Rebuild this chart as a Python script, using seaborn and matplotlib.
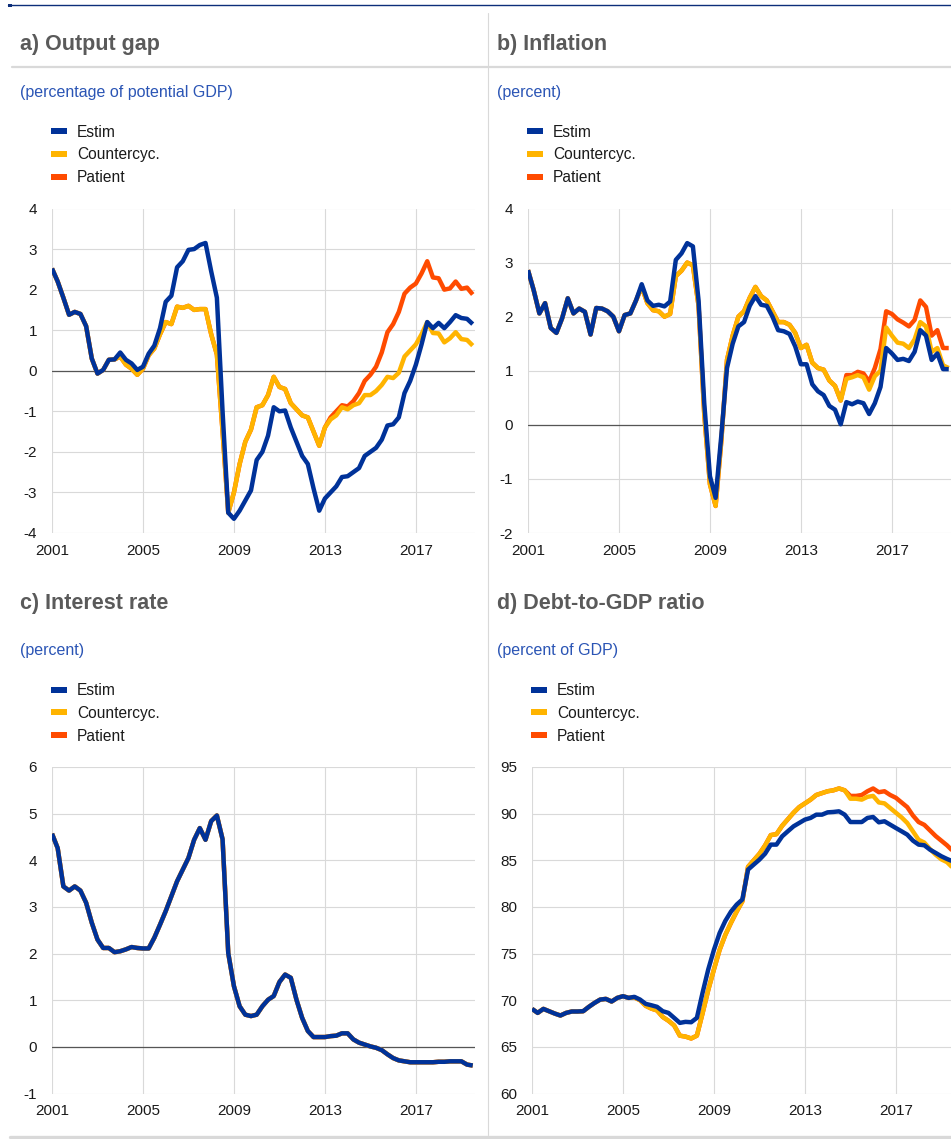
import numpy as np
import seaborn as sns
import matplotlib.pyplot as plt
from matplotlib.lines import Line2D
from matplotlib.patches import Rectangle

# ---- data: quarterly, 2001Q1 - 2019Q3 ----
quarters = 2001 + np.arange(75) / 4

output_estim = [2.52, 2.2, 1.8, 1.38, 1.45, 1.4, 1.1, 0.3, -0.07, 0.02,
                0.27, 0.28, 0.45, 0.27, 0.18, 0.02, 0.1, 0.42, 0.62, 1.05,
                1.7, 1.85, 2.55, 2.7, 2.98, 3.0, 3.1, 3.15, 2.45, 1.8,
                -1.0, -3.5, -3.65, -3.45, -3.2, -2.95, -2.2, -2.0, -1.6, -0.9,
                -1.0, -0.98, -1.4, -1.75, -2.1, -2.3, -2.9, -3.45, -3.15, -3.0,
                -2.85, -2.62, -2.6, -2.5, -2.4, -2.1, -2.0, -1.9, -1.7, -1.35,
                -1.32, -1.15, -0.55, -0.25, 0.15, 0.65, 1.2, 1.05, 1.18, 1.05,
                1.2, 1.37, 1.3, 1.28, 1.15]
output_countercyc = [2.52, 2.2, 1.8, 1.38, 1.45, 1.4, 1.1, 0.3, -0.07, 0.02,
                     0.27, 0.28, 0.35, 0.15, 0.05, -0.1, 0.05, 0.38, 0.55, 0.9,
                     1.2, 1.15, 1.58, 1.55, 1.6, 1.5, 1.52, 1.52, 0.9, 0.4,
                     -1.5, -3.5, -3.0, -2.3, -1.75, -1.45, -0.9, -0.85, -0.6, -0.15,
                     -0.4, -0.45, -0.8, -0.95, -1.1, -1.15, -1.5, -1.85, -1.4, -1.2,
                     -1.1, -0.9, -0.95, -0.85, -0.8, -0.6, -0.6, -0.5, -0.35, -0.15,
                     -0.18, -0.05, 0.35, 0.5, 0.65, 0.9, 1.2, 0.93, 0.92, 0.7,
                     0.8, 0.95, 0.78, 0.76, 0.62]
output_patient = [2.52, 2.2, 1.8, 1.38, 1.45, 1.4, 1.1, 0.3, -0.07, 0.02,
                  0.27, 0.28, 0.35, 0.15, 0.05, -0.1, 0.05, 0.38, 0.55, 0.9,
                  1.2, 1.15, 1.58, 1.55, 1.6, 1.5, 1.52, 1.52, 0.9, 0.4,
                  -1.5, -3.5, -3.0, -2.3, -1.75, -1.45, -0.9, -0.85, -0.6, -0.15,
                  -0.4, -0.45, -0.8, -0.95, -1.1, -1.15, -1.5, -1.85, -1.4, -1.15,
                  -1.0, -0.85, -0.88, -0.75, -0.55, -0.25, -0.1, 0.1, 0.45, 0.95,
                  1.15, 1.45, 1.9, 2.05, 2.15, 2.4, 2.7, 2.3, 2.28, 2.0,
                  2.03, 2.2, 2.02, 2.05, 1.88]

infl_estim = [2.86, 2.49, 2.06, 2.25, 1.79, 1.70, 1.97, 2.34, 2.06, 2.15,
              2.09, 1.67, 2.16, 2.15, 2.1, 2.0, 1.73, 2.03, 2.06, 2.3,
              2.6, 2.3, 2.2, 2.22, 2.19, 2.28, 3.05, 3.17, 3.36, 3.3,
              2.3, 0.4, -0.95, -1.35, -0.2, 1.05, 1.5, 1.82, 1.9, 2.2,
              2.38, 2.22, 2.2, 2.0, 1.75, 1.73, 1.68, 1.45, 1.12, 1.12,
              0.75, 0.62, 0.55, 0.35, 0.28, 0.01, 0.42, 0.38, 0.43, 0.4,
              0.2, 0.4, 0.7, 1.42, 1.32, 1.2, 1.22, 1.18, 1.35, 1.75,
              1.65, 1.2, 1.32, 1.03, 1.03]
infl_countercyc = [2.86, 2.49, 2.06, 2.25, 1.79, 1.70, 1.97, 2.34, 2.06, 2.15,
                   2.09, 1.67, 2.16, 2.15, 2.1, 2.0, 1.73, 2.03, 2.06, 2.3,
                   2.55, 2.25, 2.12, 2.1, 2.0, 2.05, 2.75, 2.85, 3.0, 2.95,
                   2.2, 0.2, -1.1, -1.5, -0.3, 1.2, 1.65, 2.0, 2.1, 2.35,
                   2.55, 2.38, 2.3, 2.1, 1.9, 1.9, 1.85, 1.7, 1.42, 1.48,
                   1.15, 1.05, 1.02, 0.82, 0.72, 0.45, 0.85, 0.88, 0.92, 0.88,
                   0.65, 0.9, 1.0, 1.8, 1.65, 1.52, 1.5, 1.42, 1.58, 1.9,
                   1.82, 1.35, 1.42, 1.1, 1.05]
infl_patient = [2.86, 2.49, 2.06, 2.25, 1.79, 1.70, 1.97, 2.34, 2.06, 2.15,
                2.09, 1.67, 2.16, 2.15, 2.1, 2.0, 1.73, 2.03, 2.06, 2.3,
                2.55, 2.25, 2.12, 2.1, 2.0, 2.05, 2.75, 2.85, 3.0, 2.95,
                2.2, 0.2, -1.1, -1.5, -0.3, 1.2, 1.65, 2.0, 2.1, 2.35,
                2.55, 2.38, 2.3, 2.1, 1.9, 1.9, 1.85, 1.7, 1.42, 1.48,
                1.15, 1.05, 1.02, 0.82, 0.72, 0.45, 0.92, 0.92, 0.98, 0.95,
                0.8, 1.05, 1.4, 2.1, 2.05, 1.95, 1.89, 1.82, 1.94, 2.3,
                2.18, 1.65, 1.75, 1.42, 1.42]

rate_estim = [4.57, 4.26, 3.44, 3.35, 3.44, 3.35, 3.09, 2.66, 2.3, 2.12,
              2.12, 2.03, 2.05, 2.09, 2.14, 2.12, 2.11, 2.11, 2.34, 2.62,
              2.91, 3.23, 3.55, 3.8, 4.05, 4.44, 4.69, 4.44, 4.84, 4.96,
              4.45, 2.01, 1.3, 0.87, 0.69, 0.66, 0.69, 0.87, 1.01, 1.09,
              1.39, 1.55, 1.48, 1.01, 0.62, 0.34, 0.21, 0.21, 0.21, 0.23,
              0.24, 0.29, 0.29, 0.16, 0.09, 0.05, 0.01, -0.02, -0.07, -0.16,
              -0.24, -0.29, -0.31, -0.33, -0.33, -0.33, -0.33, -0.33, -0.32, -0.32,
              -0.31, -0.31, -0.31, -0.38, -0.4]
# the three rate paths coincide in the picture
rate_countercyc = rate_estim
rate_patient = rate_estim

debt_estim = [69.07, 68.64, 69.07, 68.82, 68.57, 68.36, 68.64, 68.79, 68.79, 68.82,
              69.29, 69.71, 70.07, 70.14, 69.86, 70.25, 70.43, 70.25, 70.36, 70.07,
              69.61, 69.46, 69.29, 68.82, 68.64, 68.11, 67.57, 67.68, 67.64, 68.11,
              70.8, 73.3, 75.4, 77.2, 78.5, 79.5, 80.25, 80.8, 84.0, 84.54,
              85.07, 85.71, 86.68, 86.68, 87.57, 88.11, 88.64, 89.0, 89.36, 89.54,
              89.89, 89.89, 90.14, 90.18, 90.25, 89.89, 89.1, 89.1, 89.1, 89.54,
              89.64, 89.07, 89.18, 88.82, 88.46, 88.11, 87.75, 87.11, 86.68, 86.61,
              86.14, 85.79, 85.43, 85.14, 84.89]
debt_countercyc = [69.07, 68.64, 69.07, 68.82, 68.57, 68.36, 68.64, 68.79, 68.79, 68.82,
                   69.29, 69.71, 70.07, 70.14, 69.86, 70.25, 70.43, 70.25, 70.3, 70.0,
                   69.4, 69.1, 68.9, 68.2, 67.8, 67.3, 66.2, 66.1, 65.9, 66.2,
                   68.6, 71.1, 73.3, 75.4, 77.0, 78.3, 79.5, 80.6, 84.3, 85.0,
                   85.7, 86.6, 87.7, 87.8, 88.7, 89.4, 90.1, 90.7, 91.1, 91.5,
                   92.0, 92.2, 92.4, 92.5, 92.7, 92.5, 91.6, 91.6, 91.5, 91.8,
                   91.9, 91.2, 91.1, 90.6, 90.1, 89.6, 89.0, 88.1, 87.2, 86.9,
                   86.2, 85.6, 85.1, 84.8, 84.2]
debt_patient = [69.07, 68.64, 69.07, 68.82, 68.57, 68.36, 68.64, 68.79, 68.79, 68.82,
                69.29, 69.71, 70.07, 70.14, 69.86, 70.25, 70.43, 70.25, 70.3, 70.0,
                69.4, 69.1, 68.9, 68.2, 67.8, 67.3, 66.2, 66.1, 65.9, 66.2,
                68.6, 71.1, 73.3, 75.4, 77.0, 78.3, 79.5, 80.6, 84.3, 85.0,
                85.7, 86.6, 87.7, 87.8, 88.7, 89.4, 90.1, 90.7, 91.1, 91.5,
                92.0, 92.2, 92.4, 92.5, 92.7, 92.5, 91.9, 91.9, 92.0, 92.4,
                92.7, 92.3, 92.4, 92.0, 91.7, 91.2, 90.7, 89.8, 89.1, 88.8,
                88.2, 87.6, 87.1, 86.6, 86.0]

series_names = ['Estim', 'Countercyc.', 'Patient']
x_ticks = [2001, 2005, 2009, 2013, 2017]

BLUE, YELLOW, ORANGE = '#003299', '#FFB400', '#FF4B00'
colors = [BLUE, YELLOW, ORANGE]
GRID = '#d9d9d9'

sns.set_theme(style='white')
plt.rcParams['font.family'] = ['Liberation Sans', 'DejaVu Sans']
plt.rcParams['axes.unicode_minus'] = False

W, H = 951, 1139
fig = plt.figure(figsize=(W / 100, H / 100), dpi=100)


def fx(px):
    return px / W


def fy(py):
    return 1 - py / H


def fig_line(x0, y0, x1, y1, color, lw):
    fig.add_artist(Line2D([fx(x0), fx(x1)], [fy(y0), fy(y1)],
                          transform=fig.transFigure, color=color, lw=lw))


# page furniture
fig_line(8, 5, 951, 5, '#0c2e7a', 1.0)
fig.add_artist(Rectangle((fx(8), fy(7)), 4 / W, 3 / H, transform=fig.transFigure,
                         color='#0c2e7a', lw=0))
fig_line(12, 67, 951, 67, GRID, 1.6)
fig_line(488, 13, 488, 1135, GRID, 0.8)
fig_line(10, 1137, 951, 1137, GRID, 2.4)

panels = [
    ('a) Output gap', '(percentage of potential GDP)', 20, 52, 208.5, 533,
     [output_estim, output_countercyc, output_patient], (-4, 4), list(range(-4, 5)), True),
    ('b) Inflation', '(percent)', 497, 528, 208.5, 533,
     [infl_estim, infl_countercyc, infl_patient], (-2, 4), list(range(-2, 5)), True),
    ('c) Interest rate', '(percent)', 20, 52, 767, 1093.5,
     [rate_estim, rate_countercyc, rate_patient], (-1, 6), list(range(-1, 7)), True),
    ('d) Debt-to-GDP ratio', '(percent of GDP)', 497, 532, 767, 1093.5,
     [debt_estim, debt_countercyc, debt_patient], (60, 95), list(range(60, 96, 5)), False),
]

for title, subtitle, tx, left, top, bottom, data, ylim, yticks, zero in panels:
    shift = top - 208.5
    fig.text(fx(tx), fy(50 + shift), title, fontsize=15.5, fontweight='bold',
             color='#5a5a5a', va='baseline', ha='left')
    fig.text(fx(tx), fy(96.5 + shift), subtitle, fontsize=11.5,
             color='#2b55b5', va='baseline', ha='left')

    # legend
    for k, (name, c) in enumerate(zip(series_names, colors)):
        yc = 131 + shift + k * 22.8
        fig.add_artist(Rectangle((fx(left - 1.3), fy(yc + 3)), 16 / W, 6 / H,
                                 transform=fig.transFigure, color=c, lw=0))
        fig.text(fx(left + 25), fy(yc + 5.7), name, fontsize=11.2,
                 color='#1a1a1a', va='baseline', ha='left')

    ax = fig.add_axes([fx(left), fy(bottom), 423 / W, (bottom - top) / H])
    for values, c in reversed(list(zip(data, colors))):
        sns.lineplot(x=quarters, y=values, ax=ax, color=c, linewidth=3.2,
                     solid_joinstyle='round', solid_capstyle='butt')
    if zero:
        ax.axhline(0, color='#555555', lw=0.9, zorder=1.5)

    ax.set_xlim(2001, 2019.6)
    ax.set_ylim(*ylim)
    ax.set_xticks(x_ticks)
    ax.set_xticklabels([str(t) for t in x_ticks])
    ax.set_yticks(yticks)
    ax.set_yticklabels([str(t) for t in yticks])
    ax.grid(True, color=GRID, lw=0.8)
    ax.set_axisbelow(True)
    for s in ax.spines.values():
        s.set_visible(False)
    ax.tick_params(axis='both', length=0, labelsize=11, labelcolor='#1a1a1a')
    ax.tick_params(axis='y', pad=10.8)
    ax.tick_params(axis='x', pad=7.8)
    ax.set_xlabel('')
    ax.set_ylabel('')

fig.savefig('out.png', dpi=100)
